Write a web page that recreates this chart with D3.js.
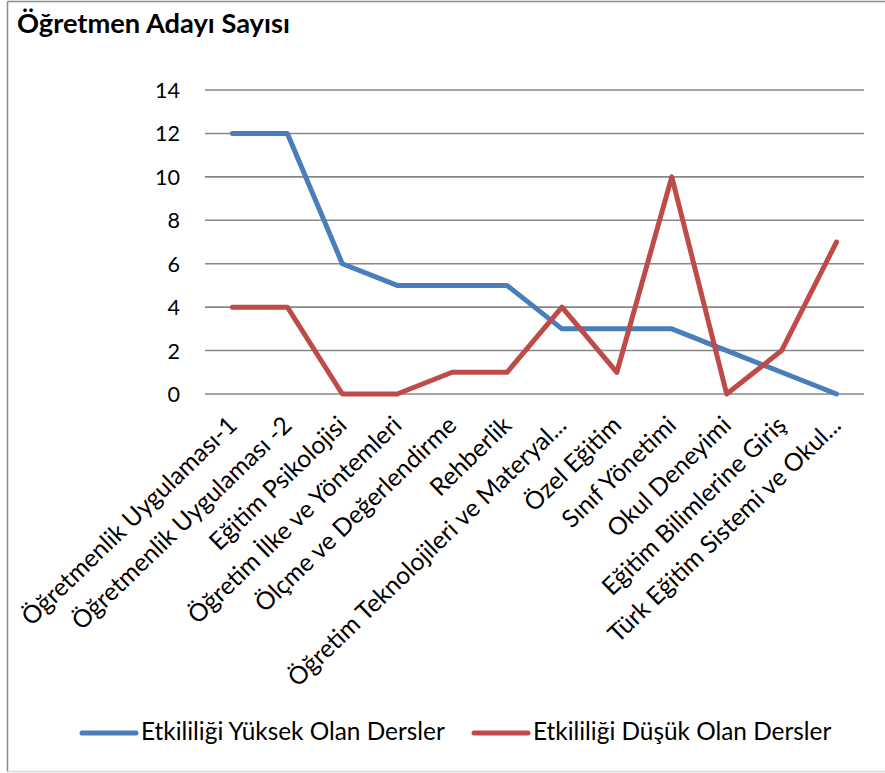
<!DOCTYPE html>
<html>
<head>
<meta charset="utf-8">
<script src="https://cdn.jsdelivr.net/npm/d3@7"></script>
<style>
  html, body { margin: 0; padding: 0; background: #fff; }
  svg { display: block; }
</style>
</head>
<body>
<svg id="chart" width="885" height="773"></svg>
<script>
const title = "Öğretmen Adayı Sayısı";
const categories = [
  "Öğretmenlik Uygulaması-1",
  "Öğretmenlik Uygulaması -2",
  "Eğitim Psikolojisi",
  "Öğretim İlke ve Yöntemleri",
  "Ölçme ve Değerlendirme",
  "Rehberlik",
  "Öğretim Teknolojileri ve Materyal...",
  "Özel Eğitim",
  "Sınıf Yönetimi",
  "Okul Deneyimi",
  "Eğitim Bilimlerine Giriş",
  "Türk Eğitim Sistemi ve Okul..."
];
const seriesNames = ["Etkililiği Yüksek Olan Dersler", "Etkililiği Düşük Olan Dersler"];
const highValues = [12, 12, 6, 5, 5, 5, 3, 3, 3, 2, 1, 0];
const lowValues  = [4, 4, 0, 0, 1, 1, 4, 1, 10, 0, 2, 7];
const yTicks = [0, 2, 4, 6, 8, 10, 12, 14];
const colors = ["#4A7EBB", "#BE4B48"];

const FONT = "Lato, 'Open Sans', sans-serif";
const svg = d3.select("#chart");

// measure helper to mimic Calibri metrics
function fitSize(text, weight, target) {
  const t = svg.append("text").attr("font-family", FONT).attr("font-weight", weight)
    .attr("font-size", 100).text(text);
  const w = t.node().getComputedTextLength();
  t.remove();
  return 100 * target / w;
}
const titleSize = fitSize(title, "bold", 273);
const tickSize = fitSize("14", "normal", 25);
const catSize = fitSize(categories[0], "normal", 288);
const legSize = fitSize(seriesNames[0], "normal", 304);

// border
svg.append("line").attr("x1", 7.5).attr("x2", 7.5).attr("y1", 1.5).attr("y2", 772)
  .attr("stroke", "#8c8c8c").attr("stroke-width", 1.5);
svg.append("line").attr("x1", 7.5).attr("x2", 885).attr("y1", 1.5).attr("y2", 1.5)
  .attr("stroke", "#8c8c8c").attr("stroke-width", 1.5);
svg.append("line").attr("x1", 7.5).attr("x2", 885).attr("y1", 771.5).attr("y2", 771.5)
  .attr("stroke", "#d9d9d9").attr("stroke-width", 1.5);

// title
svg.append("text").attr("x", 17).attr("y", 33)
  .attr("font-family", FONT).attr("font-weight", "bold").attr("font-size", titleSize)
  .attr("fill", "#000").text(title);

const x = d3.scaleBand().domain(categories).range([205, 864]);
const y = d3.scaleLinear().domain([0, 14]).range([394, 90]);
const cx = c => x(c) + x.bandwidth() / 2;

// gridlines
svg.append("g").selectAll("line").data(yTicks).join("line")
  .attr("x1", 205).attr("x2", 864)
  .attr("y1", d => y(d)).attr("y2", d => y(d))
  .attr("stroke", "#878787").attr("stroke-width", 1.6);

// y axis labels
const yAxis = d3.axisLeft(y).tickValues(yTicks).tickSize(0).tickPadding(0);
const gy = svg.append("g").attr("transform", "translate(180,0)").call(yAxis);
gy.select(".domain").remove();
gy.selectAll("text").attr("font-family", FONT).attr("font-size", tickSize)
  .attr("fill", "#000").attr("dy", "0.35em");

// x labels
const xAxis = d3.axisBottom(x).tickSize(0).tickPadding(0);
const gx = svg.append("g").attr("transform", "translate(0,394)").call(xAxis);
gx.select(".domain").remove();
gx.selectAll(".tick text")
  .attr("font-family", FONT).attr("font-size", catSize).attr("fill", "#000")
  .attr("text-anchor", "end").attr("dy", 0).attr("y", 0)
  .attr("transform", "translate(6,33) rotate(-44)");

// lines
const line = d3.line().x((d, i) => cx(categories[i])).y(d => y(d));
[highValues, lowValues].forEach((vals, k) => {
  svg.append("path").datum(vals).attr("d", line)
    .attr("fill", "none").attr("stroke", colors[k]).attr("stroke-width", 5)
    .attr("stroke-linejoin", "round").attr("stroke-linecap", "round");
});

// legend
const legendX = [82, 474];
seriesNames.forEach((name, k) => {
  const g = svg.append("g").attr("transform", `translate(${legendX[k]},733)`);
  g.append("line").attr("x1", 0).attr("x2", 54).attr("y1", 0).attr("y2", 0)
    .attr("stroke", colors[k]).attr("stroke-width", 5).attr("stroke-linecap", "round");
  g.append("text").attr("x", 59).attr("y", 7)
    .attr("font-family", FONT).attr("font-size", legSize).attr("fill", "#000").text(name);
});
</script>
</body>
</html>
